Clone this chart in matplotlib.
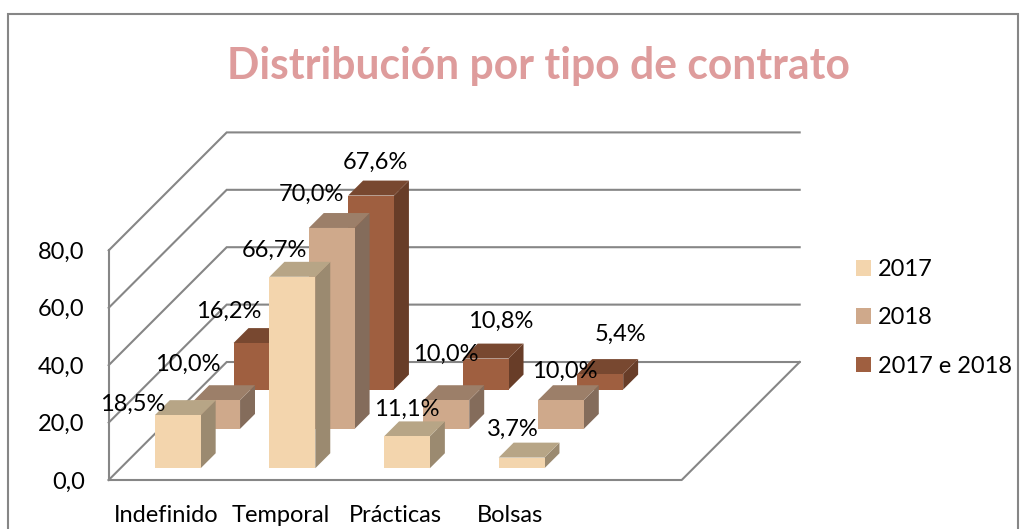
import matplotlib
matplotlib.use('Agg')
import matplotlib.pyplot as plt
from matplotlib.patches import Patch, Polygon, Rectangle

plt.rcParams['font.family'] = ['Lato', 'DejaVu Sans']

# Data
categories = ['Indefinido', 'Temporal', 'Prácticas', 'Bolsas']
series_names = ['2017', '2018', '2017 e 2018']
values_2017 = [18.5, 66.7, 11.1, 3.7]
values_2018 = [10.0, 70.0, 10.0, 10.0]
values_both = [16.2, 67.6, 10.8, 5.4]
label_2017 = ['18,5%', '66,7%', '11,1%', '3,7%']
label_2018 = ['10,0%', '70,0%', '10,0%', '10,0%']
label_both = ['16,2%', '67,6%', '10,8%', '5,4%']
y_ticks = [0, 20, 40, 60, 80]
y_tick_labels = ['0,0', '20,0', '40,0', '60,0', '80,0']

# Excel leaves room for a fifth, empty category
n_slots = 5

# Pixel size of one unit on each axis, and of one series step in depth
W, H = 1026, 529
X_UNIT = 114.6
Y_UNIT = 2.87
DEPTH_PX = 39.33
DX = DEPTH_PX / X_UNIT
DY = DEPTH_PX / Y_UNIT
N_DEPTH = 3

# Face colours per series: front, top, side
face_colors = ['#F3D5AD', '#CFA98B', '#9F5F40']
top_colors = ['#B7A586', '#9C7F69', '#784830']
side_colors = ['#9B8A70', '#846C5B', '#683D28']
grid_color = '#868686'
line_w = 1.5
font_size = 17

# Label nudges in pixels from the middle of the bar's front top edge
nudge_2017 = [(-45, 11), (-17.5, 26), (0, 27), (-8.5, 28)]
nudge_2018 = [(-29.5, 36), (-20, 34), (-0.5, 46), (4, 29)]
nudge_both = [(-27.5, 31.5), (4.5, 33), (15, 37), (20.5, 39.5)]

fig = plt.figure(figsize=(W / 100, H / 100), dpi=100)
ax = fig.add_axes([0, 0, 1, 1])
ax.set_xlim(-108.7 / X_UNIT, (W - 108.7) / X_UNIT)
ax.set_ylim(-(H - 480) / Y_UNIT, 480 / Y_UNIT)
ax.axis('off')


def pt(x, depth, v):
    # oblique projection onto the flat axes
    return (x + depth * DX, v + depth * DY)


# Chart frame
fig.add_artist(Rectangle((7.5 / W, -0.05), (1018 - 7.5) / W, 1.05 - 13.5 / H,
                         transform=fig.transFigure, fill=False,
                         edgecolor=grid_color, linewidth=line_w))

# Walls and floor
top = y_ticks[-1]
for v in y_ticks:
    xs, ys = zip(pt(0, 0, v), pt(0, N_DEPTH, v), pt(n_slots, N_DEPTH, v))
    ax.plot(xs, ys, color=grid_color, linewidth=line_w, solid_joinstyle='miter', zorder=1)
xs, ys = zip(pt(0, 0, 0), pt(n_slots, 0, 0), pt(n_slots, N_DEPTH, 0))
ax.plot(xs, ys, color=grid_color, linewidth=line_w, zorder=1)
xs, ys = zip(pt(0, 0, 0), pt(0, 0, top))
ax.plot(xs, ys, color=grid_color, linewidth=line_w, zorder=1)

for v, lab in zip(y_ticks, y_tick_labels):
    x, y = pt(0, 0, v)
    ax.annotate(lab, (x, y), xytext=(-24, -2), textcoords='offset pixels',
                ha='right', va='center', fontsize=font_size, color='black')

for i, cat in enumerate(categories):
    ax.annotate(cat, (i + 0.5, 0), xytext=(0, -35), textcoords='offset pixels',
                ha='center', va='center', fontsize=font_size, color='black')

# Bars, back series first
bar_w = 0.40
bar_d = 0.38
front_depth = 0.3
all_values = [values_2017, values_2018, values_both]
all_labels = [label_2017, label_2018, label_both]
all_nudges = [nudge_2017, nudge_2018, nudge_both]

for s in [2, 1, 0]:
    d0 = front_depth + s
    d1 = d0 + bar_d
    for i, v in enumerate(all_values[s]):
        x0 = i + 0.5 - bar_w / 2
        x1 = x0 + bar_w
        side = [pt(x1, d0, 0), pt(x1, d1, 0), pt(x1, d1, v), pt(x1, d0, v)]
        roof = [pt(x0, d0, v), pt(x1, d0, v), pt(x1, d1, v), pt(x0, d1, v)]
        face = [pt(x0, d0, 0), pt(x1, d0, 0), pt(x1, d0, v), pt(x0, d0, v)]
        ax.add_patch(Polygon(side, facecolor=side_colors[s], edgecolor='none', zorder=5 - s))
        ax.add_patch(Polygon(roof, facecolor=top_colors[s], edgecolor='none', zorder=5 - s))
        ax.add_patch(Polygon(face, facecolor=face_colors[s], edgecolor='none', zorder=5 - s))

for s in range(3):
    d0 = front_depth + s
    for i, v in enumerate(all_values[s]):
        ax.annotate(all_labels[s][i], pt(i + 0.5, d0, v), xytext=all_nudges[s][i],
                    textcoords='offset pixels', ha='center', va='center',
                    fontsize=font_size, color='black', zorder=10)

# Legend
handles = [Patch(facecolor=c, edgecolor='none') for c in face_colors]
leg = ax.legend(handles, series_names, loc='center left',
                bbox_to_anchor=(856 / W, 1 - 318 / H), frameon=False,
                fontsize=font_size, handlelength=0.64, handleheight=0.64,
                handletextpad=0.3, labelspacing=1.15, borderpad=0, borderaxespad=0)

# Title
fig.text(538 / W, 1 - 66 / H, 'Distribución por tipo de contrato', ha='center',
         va='center', fontsize=30.7, fontweight='bold', color='#DE9C9C')

fig.savefig('out.png', dpi=100)
